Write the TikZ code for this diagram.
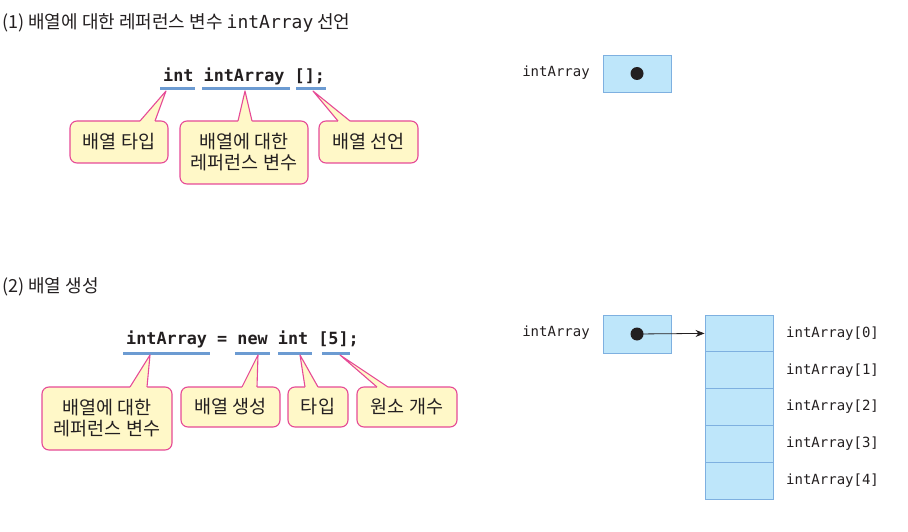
\documentclass[tikz,border=0pt]{standalone}
\usepackage{fontspec}
\setmainfont{Noto Sans CJK KR}
\newfontfamily\kr{Noto Sans CJK KR}
\newfontfamily\mono{DejaVu Sans Mono}
\usetikzlibrary{arrows.meta}
\definecolor{txt}{HTML}{231F20}
\definecolor{ulblue}{HTML}{6C9BD2}
\definecolor{callfill}{HTML}{FFF8C8}
\definecolor{callline}{HTML}{E64A96}
\definecolor{cellfill}{HTML}{BEE6FA}
\definecolor{cellline}{HTML}{7EB0E0}
\tikzset{
  ttl/.style={anchor=west, text=txt, inner sep=0pt, font=\kr\fontsize{18}{20}\selectfont},
  code/.style={anchor=base west, text=txt, inner sep=0pt, font=\mono\bfseries\fontsize{16.8}{18}\selectfont},
  uline/.style={draw=ulblue, line width=3pt},
  callout/.style={draw=callline, fill=callfill, line width=1.1pt, rounded corners=7pt, align=center, text=txt, inner sep=2pt, font=\kr\fontsize{18.5}{21}\selectfont},
  ptrfill/.style={fill=callfill},
  ptrline/.style={draw=callline, line width=1.1pt, line join=round},
  cell/.style={draw=cellline, fill=cellfill, line width=0.9pt, minimum width=68pt, inner sep=0pt},
  lab/.style={text=txt, inner sep=0pt, font=\mono\fontsize{14}{16}\selectfont},
  dot/.style={fill=txt},
}
\begin{document}
\begin{tikzpicture}[x=1pt, y=-1pt]
\useasboundingbox (0,0) rectangle (908,532);

% ---------- section 1 ----------
\node[ttl] (t1) at (2,23) {(1) 배열에 대한 레퍼런스 변수 {\mono intArray} 선언};
\node[code] (c1) at (163,82) {int intArray [];};
\coordinate (u1a) at (160,89); \coordinate (u1b) at (195,89);
\coordinate (u2a) at (202,89); \coordinate (u2b) at (290,89);
\coordinate (u3a) at (296,89); \coordinate (u3b) at (326,89);
\draw[uline] (u1a) -- (u1b);
\draw[uline] (u2a) -- (u2b);
\draw[uline] (u3a) -- (u3b);

\node[callout, minimum width=98pt, minimum height=42pt] (b1) at (119,142) {배열 타입};
\node[callout, minimum width=128pt, minimum height=63pt] (b2) at (244,152.5) {배열에 대한\\레퍼런스 변수};
\node[callout, minimum width=99pt, minimum height=42pt] (b3) at (368.5,142) {배열 선언};

\coordinate (p1t) at (166,91); \coordinate (p1a) at (140,121); \coordinate (p1b) at (155,121);
\coordinate (p2t) at (245,91); \coordinate (p2a) at (238,121); \coordinate (p2b) at (252,121);
\coordinate (p3t) at (313,91); \coordinate (p3a) at (338,121); \coordinate (p3b) at (350,121);
\foreach \i in {1,2,3}{
  \fill[ptrfill] ([yshift=-2pt]p\i a) -- (p\i a) -- (p\i t) -- (p\i b) -- ([yshift=-2pt]p\i b) -- cycle;
  \draw[ptrline] (p\i a) -- (p\i t) -- (p\i b);
}

\node[lab] (l1) at (556,73) {intArray};
\node[cell, minimum height=37pt] (r1) at (637,73.5) {};
\fill[dot] (r1.center) circle (6.5);

% ---------- section 2 ----------
\node[ttl] (t2) at (2,287) {(2) 배열 생성};
\node[code] (c2) at (126,344) {intArray = new int [5];};
\coordinate (v1a) at (123,353); \coordinate (v1b) at (210,353);
\coordinate (v2a) at (235,353); \coordinate (v2b) at (270,353);
\coordinate (v3a) at (278,353); \coordinate (v3b) at (312,353);
\coordinate (v4a) at (322,353); \coordinate (v4b) at (350,353);
\draw[uline] (v1a) -- (v1b);
\draw[uline] (v2a) -- (v2b);
\draw[uline] (v3a) -- (v3b);
\draw[uline] (v4a) -- (v4b);

\node[callout, minimum width=130pt, minimum height=63pt] (bA) at (107,418.5) {배열에 대한\\레퍼런스 변수};
\node[callout, minimum width=99pt, minimum height=40pt] (bB) at (230.5,407) {배열 생성};
\node[callout, minimum width=60pt, minimum height=40pt] (bC) at (318,407) {타입};
\node[callout, minimum width=100pt, minimum height=40pt] (bD) at (407,407) {원소 개수};

\coordinate (qAt) at (150,355); \coordinate (qAa) at (130,387); \coordinate (qAb) at (147,387);
\coordinate (qBt) at (258,355); \coordinate (qBa) at (242,387); \coordinate (qBb) at (257,387);
\coordinate (qCt) at (300,355); \coordinate (qCa) at (305,387); \coordinate (qCb) at (318,387);
\coordinate (qDt) at (340,355); \coordinate (qDa) at (377,387); \coordinate (qDb) at (388,387);
\foreach \i in {A,B,C,D}{
  \fill[ptrfill] ([yshift=-2pt]q\i a) -- (q\i a) -- (q\i t) -- (q\i b) -- ([yshift=-2pt]q\i b) -- cycle;
  \draw[ptrline] (q\i a) -- (q\i t) -- (q\i b);
}

\node[lab] (l2) at (556,333) {intArray};
\node[cell, minimum height=38pt] (r2) at (637,334) {};
\coordinate (d2) at (637,334);
\fill[dot] (d2) circle (6.5);

\foreach \k/\y in {0/333.4,1/370.2,2/407,3/443.8,4/480.6}{
  \node[cell, minimum height=36.8pt] (a\k) at (739,\y) {};
  \node[lab, anchor=west] (al\k) at (786,\y) {intArray[\k]};
}
\draw[txt, line width=0.8pt, -{Stealth[length=9pt,width=7pt]}] (d2) -- (a0.west);
\end{tikzpicture}
\end{document}
